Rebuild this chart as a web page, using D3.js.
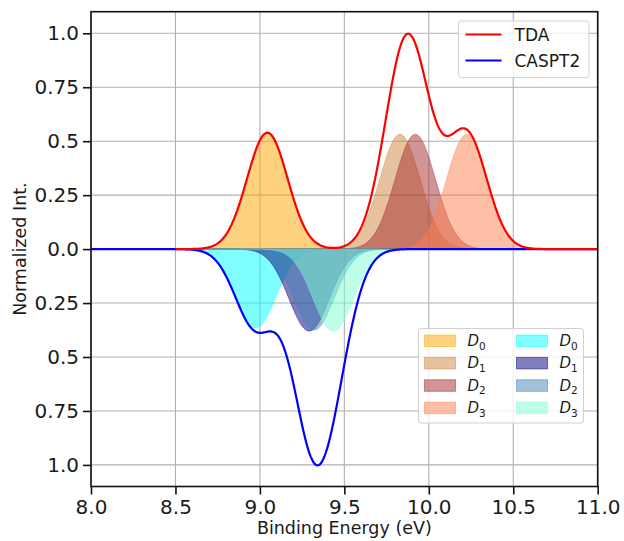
<!DOCTYPE html>
<html>
<head>
<meta charset="utf-8">
<script src="https://cdn.jsdelivr.net/npm/d3@7"></script>
<style>
  body { margin: 0; background: #fff; }
  text { font-family: "DejaVu Sans", sans-serif; fill: #1a1a1a; }
</style>
</head>
<body>
<div id="chart"></div>
<script>
// peak data (energy in eV, normalized intensity)
const states = ["0", "1", "2", "3"];
const tdaCenters = [9.044, 9.829, 9.920, 10.224];
const tdaHeights = [0.539, 0.532, 0.532, 0.531];
const casCenters = [8.975, 9.292, 9.320, 9.435];
const casHeights = [0.365, 0.380, 0.375, 0.380];
const sigma = 0.12; // gaussian broadening (eV)
const tdaColors = ["orange", "peru", "brown", "coral"];
const casColors = ["cyan", "navy", "steelblue", "aquamarine"];
const xTicks = [8.0, 8.5, 9.0, 9.5, 10.0, 10.5, 11.0];
const xTickLabels = ["8.0", "8.5", "9.0", "9.5", "10.0", "10.5", "11.0"];
const yTicks = [-1, -0.75, -0.5, -0.25, 0, 0.25, 0.5, 0.75, 1];
const yTickLabels = ["1.0", "0.75", "0.5", "0.25", "0.0", "0.25", "0.5", "0.75", "1.0"];

const width = 624, height = 541;
const margin = {top: 11.7, right: 26.3, bottom: 54.5, left: 91};
const pw = width - margin.left - margin.right,
      ph = height - margin.top - margin.bottom;

const svg = d3.select("#chart").append("svg")
    .attr("width", width).attr("height", height);
const g = svg.append("g")
    .attr("transform", `translate(${margin.left},${margin.top})`);

const x = d3.scaleLinear().domain([8, 11]).range([0, pw]);
const y = d3.scaleLinear().domain([-1.1, 1.1]).range([ph, 0]);

// grid
g.append("g").selectAll("line").data(xTicks).join("line")
  .attr("x1", d => x(d)).attr("x2", d => x(d)).attr("y1", 0).attr("y2", ph)
  .attr("stroke", "#b0b0b0").attr("stroke-width", 1.1);
g.append("g").selectAll("line").data(yTicks).join("line")
  .attr("y1", d => y(d)).attr("y2", d => y(d)).attr("x1", 0).attr("x2", pw)
  .attr("stroke", "#b0b0b0").attr("stroke-width", 1.1);

svg.append("clipPath").attr("id", "plotclip").append("rect")
  .attr("width", pw).attr("height", ph);
const plot = g.append("g").attr("clip-path", "url(#plotclip)");

// broadened components
function band(c, h, sign, grid) {
  return grid.map(e => ({e: e, v: sign * h * Math.exp(-((e - c) ** 2) / (2 * sigma * sigma))}));
}
const tdaGrid = d3.range(8.5, 11.0001, 0.005);
const casGrid = d3.range(8.0, 11.0001, 0.005);
const tdaBands = tdaCenters.map((c, i) => band(c, tdaHeights[i], 1, tdaGrid));
const casBands = casCenters.map((c, i) => band(c, casHeights[i], -1, casGrid));
const tdaTotal = tdaGrid.map((e, k) => ({e: e, v: d3.sum(tdaBands, b => b[k].v)}));
const casTotal = casGrid.map((e, k) => ({e: e, v: d3.sum(casBands, b => b[k].v)}));

const area = d3.area().x(d => x(d.e)).y0(y(0)).y1(d => y(d.v));
const line = d3.line().x(d => x(d.e)).y(d => y(d.v));

tdaBands.forEach((b, i) => plot.append("path").attr("d", area(b))
  .attr("fill", tdaColors[i]).attr("fill-opacity", 0.5)
  .attr("stroke", tdaColors[i]).attr("stroke-opacity", 0.5).attr("stroke-width", 0.8));
casBands.forEach((b, i) => plot.append("path").attr("d", area(b))
  .attr("fill", casColors[i]).attr("fill-opacity", 0.5)
  .attr("stroke", casColors[i]).attr("stroke-opacity", 0.5).attr("stroke-width", 0.8));

plot.append("path").attr("d", line(casTotal))
  .attr("fill", "none").attr("stroke", "blue").attr("stroke-width", 2.2);
plot.append("path").attr("d", line(tdaTotal))
  .attr("fill", "none").attr("stroke", "red").attr("stroke-width", 2.2);

// frame
g.append("rect").attr("width", pw).attr("height", ph)
  .attr("fill", "none").attr("stroke", "#111").attr("stroke-width", 1.6);

// axes
const xAxis = g.append("g").attr("transform", `translate(0,${ph})`)
  .call(d3.axisBottom(x).tickValues(xTicks).tickFormat((d, i) => xTickLabels[i])
    .tickSize(8).tickPadding(5));
const yAxis = g.append("g")
  .call(d3.axisLeft(y).tickValues(yTicks).tickFormat((d, i) => yTickLabels[i])
    .tickSize(8).tickPadding(4));
[xAxis, yAxis].forEach(a => {
  a.select(".domain").remove();
  a.selectAll(".tick line").attr("stroke", "#111").attr("stroke-width", 1.6);
  a.selectAll(".tick text").attr("font-size", 20).attr("font-family", "DejaVu Sans")
    .attr("fill", "#1a1a1a");
});

svg.append("text").attr("x", margin.left + pw / 2).attr("y", 534)
  .attr("text-anchor", "middle").attr("font-size", 17.5).text("Binding Energy (eV)");
svg.append("text").attr("transform", `translate(26,${margin.top + y(0)}) rotate(-90)`)
  .attr("text-anchor", "middle").attr("font-size", 17.5).text("Normalized Int.");

// legend: totals
const leg1 = svg.append("g").attr("transform", "translate(458.5,21)");
leg1.append("rect").attr("width", 130.5).attr("height", 56.5).attr("rx", 3)
  .attr("fill", "white").attr("fill-opacity", 0.8).attr("stroke", "#d0d0d0");
const leg1Items = [["TDA", "red"], ["CASPT2", "blue"]];
leg1Items.forEach((it, i) => {
  const yy = 13.5 + i * 26;
  leg1.append("line").attr("x1", 7).attr("x2", 43).attr("y1", yy).attr("y2", yy)
    .attr("stroke", it[1]).attr("stroke-width", 2.2);
  leg1.append("text").attr("x", 56).attr("y", yy + 6).attr("font-size", 17).text(it[0]);
});

// legend: components
const leg2 = svg.append("g").attr("transform", "translate(418.5,328.5)");
leg2.append("rect").attr("width", 165).attr("height", 94.5).attr("rx", 3)
  .attr("fill", "white").attr("fill-opacity", 0.8).attr("stroke", "#d0d0d0");
[tdaColors, casColors].forEach((cols, col) => {
  cols.forEach((c, i) => {
    const px = 6 + col * 92, py = 6.5 + i * 22.4;
    leg2.append("rect").attr("x", px).attr("y", py).attr("width", 31).attr("height", 11.5)
      .attr("fill", c).attr("fill-opacity", 0.5)
      .attr("stroke", c).attr("stroke-opacity", 0.5).attr("stroke-width", 1);
    const t = leg2.append("text").attr("x", px + 43).attr("y", py + 11).attr("font-size", 15);
    t.append("tspan").attr("font-style", "italic").text("D");
    t.append("tspan").attr("font-size", 10.5).attr("dy", 3.5).text(states[i]);
  });
});
</script>
</body>
</html>
